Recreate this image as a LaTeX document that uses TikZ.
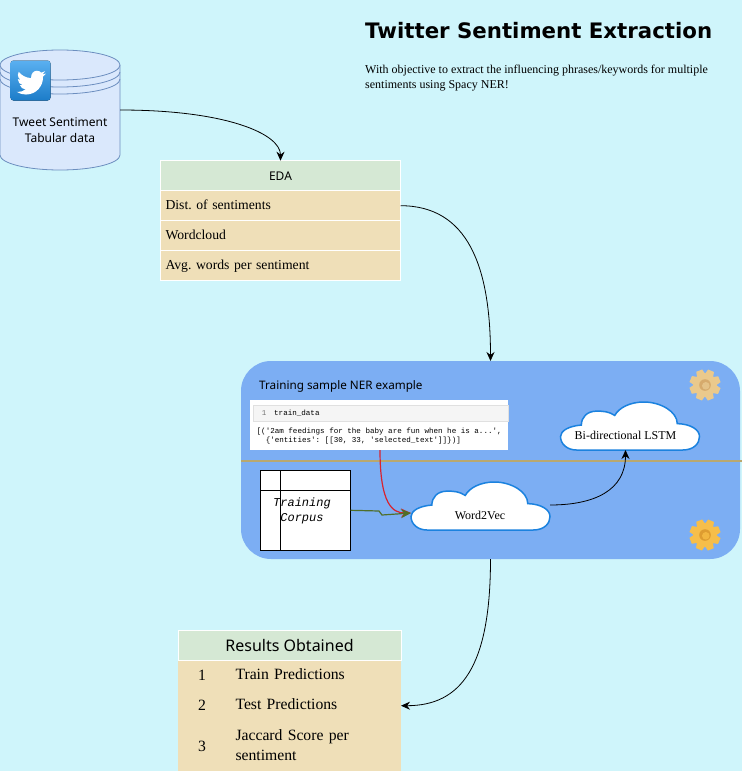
\documentclass[tikz,border=0pt]{standalone}
\usepackage{fontspec}
\usepackage{tikz}
\usetikzlibrary{arrows.meta,positioning}
\setmainfont{Liberation Serif}
\setmonofont{Liberation Mono}
\newfontfamily\handfont{Noto Sans}
\newfontfamily\titlefont{DejaVu Sans}
\definecolor{pagec}{HTML}{CFF5FB}
\definecolor{dbfill}{HTML}{DAE8FC}
\definecolor{dbline}{HTML}{6C8EBF}
\definecolor{headc}{HTML}{D5E8D4}
\definecolor{rowc}{HTML}{EFDFB8}
\definecolor{panelc}{HTML}{7CAEF3}
\definecolor{cloudc}{HTML}{1B82DF}
\definecolor{splitc}{HTML}{B9A86F}
\definecolor{redc}{HTML}{D8232F}
\definecolor{greenc}{HTML}{4F6F2A}
\definecolor{icontop}{HTML}{5AB0F0}
\definecolor{iconbot}{HTML}{1C7CC8}
\definecolor{palegear}{HTML}{EAC98C}
\definecolor{palering}{HTML}{D6AA6C}
\definecolor{palehole}{HTML}{E4C288}
\definecolor{goldgear}{HTML}{F6BE4A}
\definecolor{goldring}{HTML}{DE9C30}
\definecolor{goldhole}{HTML}{F2B640}
\newcommand{\szf}[1]{\fontsize{#1}{#1}\selectfont}
\tikzset{
  headcell/.style={draw=white,line width=.7pt,fill=headc,minimum width=240pt,minimum height=30pt,inner sep=0pt,outer sep=0pt,font=\handfont\szf{12}},
  rowcell/.style={draw=white,line width=.7pt,fill=rowc,text width=230pt,text height=9pt,text depth=2pt,minimum height=30pt,inner sep=5pt,outer sep=0pt,align=left,font=\frenchspacing\szf{13.7}},
  resnum/.style={fill=rowc,minimum width=48pt,inner sep=0pt,outer sep=0pt,font=\szf{15.7}},
  resrow/.style={fill=rowc,text width=156pt,inner sep=0pt,outer sep=0pt,inner xsep=9.5pt,align=left,font=\szf{15.7}},
  resline/.style={resrow,text height=11pt,text depth=2.5pt,minimum height=30pt},
  cloudtext/.style={inner sep=0pt,outer sep=0pt,minimum height=30pt,font=\szf{12}},
  flow/.style={-{Stealth[length=9pt,width=8pt]},line width=.8pt},
  bigflow/.style={-{Stealth[length=10pt,width=9pt]},line width=1.2pt},
}
\newcommand{\cloudat}[4]{%
  \begin{scope}[shift={(#1,#2)},x=#3pt,y=-#4pt]
    \draw[fill=white,draw=cloudc,line width=1.5pt] (0.115,1) -- (0.88,1)
      .. controls (0.96,1) and (1,0.86) .. (1,0.72)
      .. controls (1,0.58) and (0.94,0.46) .. (0.84,0.45)
      .. controls (0.84,0.2) and (0.72,0) .. (0.6,0)
      .. controls (0.5,0) and (0.42,0.12) .. (0.39,0.28)
      .. controls (0.35,0.2) and (0.31,0.19) .. (0.26,0.19)
      .. controls (0.19,0.19) and (0.15,0.32) .. (0.15,0.48)
      .. controls (0.06,0.5) and (0,0.6) .. (0,0.72)
      .. controls (0,0.88) and (0.05,1) .. (0.115,1) -- cycle;
  \end{scope}}
% gear: centre, body, ring, hole
\newcommand{\gearat}[5]{%
  \begin{scope}[shift={(#1,#2)}]
    \foreach \a in {0,45,...,315}
      \fill[#3,rotate=\a+22] (-3.2,-15.5) -- (3.2,-15.5) -- (4.4,-10) -- (-4.4,-10) -- cycle;
    \fill[#3] (0,0) circle (11.8);
    \fill[#4] (0,0) circle (5.8);
    \fill[#5] (0.8,0.8) circle (3.8);
  \end{scope}}

\begin{document}
\begin{tikzpicture}[x=1pt,y=-1pt,>=Stealth]
  \useasboundingbox (0,0) rectangle (742,771);
  \fill[pagec] (0,0) rectangle (742,771);
  % title
  \node[anchor=west,inner sep=0pt,font=\titlefont\bfseries\szf{21.3}] (title) at (365,31) {Twitter Sentiment Extraction};
  \node[anchor=north west,inner sep=0pt,align=left,font=\fontsize{12}{15}\selectfont] (subtitle) at (365,65)
        {With objective to extract the influencing phrases/keywords for multiple\\sentiments using Spacy NER!};
  % tweet store
  \draw[fill=dbfill,draw=dbline,line width=.8pt] (0,65) -- (0,155) arc (180:0:60 and 15) -- (120,65);
  \draw[fill=dbfill,draw=dbline,line width=.8pt] (60,65) ellipse (60 and 15);
  \foreach \y in {72,79}
    \draw[draw=dbline,line width=.8pt] (0,\y) arc (180:0:60 and 15);
  \fill[top color=icontop,bottom color=iconbot,rounded corners=3pt] (10.5,60.5) rectangle (50.5,100.5);
  \begin{scope}[shift={(16.7,68)},x=1.22pt,y=-1.22pt]
    \fill[white] (23.953,4.57) .. controls (23.07,4.96) and (22.12,5.22) .. (21.128,5.345)
      .. controls (22.15,4.73) and (22.93,3.77) .. (23.291,2.622)
      .. controls (22.34,3.177) and (21.286,3.581) .. (20.164,3.806)
      .. controls (19.2,2.8) and (17.9,2.25) .. (16.57,2.25)
      .. controls (13.85,2.25) and (11.65,4.5) .. (11.78,8.288)
      .. controls (7.69,8.095) and (4.067,6.13) .. (1.64,3.162)
      .. controls (1.22,3.88) and (0.974,4.73) .. (0.974,5.637)
      .. controls (0.974,7.347) and (1.844,8.85) .. (3.162,9.733)
      .. controls (2.36,9.7) and (1.6,9.48) .. (0.934,9.117) -- (0.934,9.177)
      .. controls (0.934,11.55) and (2.62,13.55) .. (4.88,14.004)
      .. controls (4.17,14.2) and (3.4,14.23) .. (2.668,14.089)
      .. controls (3.3,16.07) and (5.13,17.47) .. (7.272,17.506)
      .. controls (5.6,18.82) and (3.48,19.611) .. (1.17,19.611)
      .. controls (0.78,19.611) and (0.391,19.588) .. (0,19.544)
      .. controls (2.18,20.94) and (4.78,21.753) .. (7.557,21.753)
      .. controls (16.61,21.753) and (21.555,14.257) .. (21.555,7.768)
      .. controls (21.555,7.558) and (21.555,7.348) .. (21.54,7.138)
      .. controls (22.5,6.43) and (23.34,5.57) .. (24,4.59) -- cycle;
  \end{scope}
  \node[minimum width=120pt,inner sep=0pt,outer sep=0pt,align=center,font=\handfont\fontsize{12}{16}\selectfont] (tweetdb) at (60,130) {Tweet Sentiment\\Tabular data};
  \coordinate (tweetout) at (120,110);
  % EDA table
  \node[headcell] (edahead) at (280.5,175.7) {EDA};
  \node[rowcell,below=0pt of edahead] (edadist) {Dist. of sentiments};
  \node[rowcell,below=0pt of edadist] (edaword) {Wordcloud};
  \node[rowcell,below=0pt of edaword] (edaavg) {Avg. words per sentiment};
  % training panel
  \node[fill=panelc,rounded corners=30pt,minimum width=499pt,minimum height=198pt,inner sep=0pt,outer sep=0pt] (panel) at (490.5,460) {};
  \node[anchor=west,inner sep=0pt,font=\handfont\szf{11.7}] (nertitle) at (259,386) {Training sample NER example};
  \gearat{705}{385}{palegear}{palering}{palehole}
  \gearat{705}{535}{goldgear}{goldring}{goldhole}
  % notebook capture
  \node[fill=white,minimum width=258pt,minimum height=50pt,inner sep=0pt,outer sep=0pt] (sample) at (379,425) {};
  \node[fill=black!4,draw=black!12,line width=.5pt,minimum width=255pt,minimum height=16pt,inner sep=0pt] (samplecell) at (380.5,413.5) {};
  \node[inner sep=0pt,text=black!55,font=\ttfamily\szf{7.5}] (samplenum) at (264,413.5) {1};
  \node[anchor=west,inner sep=0pt,font=\ttfamily\szf{7.56}] (samplecode) at (274,413.5) {train\_data};
  \node[anchor=north west,inner sep=0pt,align=left,font=\ttfamily\fontsize{7.56}{9.4}\selectfont] (sampleout) at (256.5,427.5)
        {[('2am feedings for the baby are fun when he is a...',\\\ \ \{'entities': [[30, 33, 'selected\_text']]\})]};
  \coordinate (samplered) at (380,450);
  % corpus store
  \node[draw=black,fill=white,line width=1pt,minimum width=90pt,minimum height=80pt,inner sep=0pt,outer sep=0pt] (corpus) at (305.7,510.3) {};
  \draw[line width=1pt] (corpus.north west) ++(20,0) -- ++(0,80);
  \draw[line width=1pt] (corpus.north west) ++(0,20) -- ++(90,0);
  \node[align=center,inner sep=0pt,font=\ttfamily\itshape\fontsize{12}{15}\selectfont] (corpustext) at (302,511) {Training\\Corpus};
  % clouds
  \cloudat{411}{482}{139}{48}
  \cloudat{560.5}{402}{139}{48}
  \node[cloudtext,minimum width=139pt] (wordvec) at (480,515) {Word2Vec};
  \node[cloudtext,font=\szf{12},minimum width=130pt] (lstm) at (625.5,435) {Bi-directional LSTM};
  \coordinate (wordout) at (550,505);
  \coordinate (wordin) at (411,513);
  % results table
  \node[headcell,minimum width=223pt,font=\handfont\szf{16}] (reshead) at (289.5,645.7) {Results Obtained};
  \node[resnum,minimum height=30pt,below=0pt of reshead.south west,anchor=north west] (resnumone) {1};
  \node[resline,right=0pt of resnumone] (restrain) {Train Predictions};
  \node[resnum,minimum height=30pt,below=0pt of resnumone] (resnumtwo) {2};
  \node[resline,right=0pt of resnumtwo] (restest) {Test Predictions};
  \node[resnum,minimum height=51pt,below=0pt of resnumtwo] (resnumthree) {3};
  \node[resrow,minimum height=51pt,yshift=1pt,right=0pt of resnumthree,font=\fontsize{15.7}{20}\selectfont] (resjaccard) {Jaccard Score per\\sentiment};
  % connectors
  \coordinate (splitl) at (241,461);
  \coordinate (splitr) at (742,461);
  \draw[splitc,line width=1.2pt] (splitl) -- (splitr);
  \draw[flow] (tweetout) .. controls +(106,0) and +(0,-27) .. (edahead.north);
  \draw[flow] (edadist.east) .. controls +(67,0) and +(0,-95) .. (panel.north);
  \draw[bigflow,redc] (samplered) .. controls +(0,55) and +(-18,0) .. (wordin);
  \draw[bigflow,greenc] (corpus.east) -- (379,511) -- (382,515) -- (wordin);
  \draw[flow] (wordout) .. controls +(45,0) and +(0,40) .. (lstm.south);
  \draw[flow] (panel.south) .. controls +(0,108) and +(60,0) .. (restest.east);
\end{tikzpicture}
\end{document}
